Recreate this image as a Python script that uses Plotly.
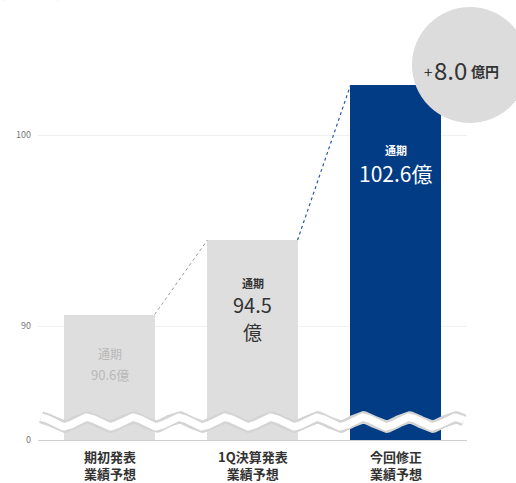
import numpy as np
import plotly.graph_objects as go

# ---- data ----
cat_line1 = ["期初発表", "1Q決算発表", "今回修正"]
cat_line2 = ["業績予想", "業績予想", "業績予想"]
values = [90.6, 94.5, 102.6]
value_labels = ["90.6億", "94.5", "102.6億"]
diff_label = "8.0"
tick_vals_real = [90, 100]
title_text = "売上高見通し（単位：億円）"

# ---- scale (broken axis: bottom of plot represents "0") ----
PX_PER_UNIT = 19.1
PLOT_H = 440
Y0 = 90 - 114 / PX_PER_UNIT           # value shown at the axis line ("0")
Y1 = Y0 + PLOT_H / PX_PER_UNIT

def ypx(py):
    return Y0 + (PLOT_H - py) / PX_PER_UNIT

def xpx(px):
    return (px - 38) / 143 - 0.5

def px_paper(px):
    return (px - 38) / 429

def py_paper(py):
    return (440 - py) / 440

GRAY = "#dedede"
BLUE = "#013c84"
BW = 0.63
xs = list(range(len(values)))

fig = go.Figure()
fig.add_trace(go.Bar(x=xs, y=values, width=BW, marker=dict(color=[GRAY, GRAY, BLUE], line=dict(width=0)),
                     hoverinfo="skip"))

# connectors
fig.add_trace(go.Scatter(x=[xs[0] + BW / 2, xs[1] - BW / 2], y=[values[0], values[1]], mode="lines",
                         line=dict(color="#9a9a9a", width=1, dash="dot"), hoverinfo="skip"))
fig.add_trace(go.Scatter(x=[xs[1] + BW / 2, xs[2] - BW / 2], y=[values[1], values[2]], mode="lines",
                         line=dict(color="#2a5aa8", width=1.2, dash="dot"), hoverinfo="skip"))

# wavy break decoration
wx = np.linspace(xpx(41), xpx(464), 600)
wave_len = 46 / 143
wy = ypx(422) + (4.8 / PX_PER_UNIT) * np.cos(2 * np.pi * (wx - xpx(87)) / wave_len)
fig.add_trace(go.Scatter(x=wx, y=wy, mode="lines", line=dict(color="#d4d4d4", width=12), hoverinfo="skip"))
fig.add_trace(go.Scatter(x=wx, y=wy, mode="lines", line=dict(color="white", width=7.5), hoverinfo="skip"))

FONT = "Noto Sans CJK JP"
ann = []
# bar 1
ann.append(dict(x=0, y=ypx(353), text="通期", font=dict(size=12, color="#b8b8b8")))
ann.append(dict(x=0, y=ypx(374), text=value_labels[0], font=dict(size=13, color="#b8b8b8")))
# bar 2
ann.append(dict(x=1, y=ypx(283), text="<b>通期</b>", font=dict(size=11, color="#333333")))
ann.append(dict(x=1, y=ypx(304), text=value_labels[1], font=dict(size=20, color="#333333")))
ann.append(dict(x=1, y=ypx(331), text="億", font=dict(size=19, color="#333333")))
# bar 3
ann.append(dict(x=2, y=ypx(150), text="<b>通期</b>", font=dict(size=11, color="white")))
ann.append(dict(x=2, y=ypx(173), text=value_labels[2], font=dict(size=21, color="white")))
for a in ann:
    a.update(xref="x", yref="y", showarrow=False, xanchor="center", yanchor="middle",
             font=dict(family=FONT, **a["font"]))

# bubble text
for px, py, txt, size in [(428, 71, "+", 15), (450, 69, diff_label, 24), (485, 71, "<b>億円</b>", 14)]:
    ann.append(dict(xref="paper", yref="paper", x=px_paper(px), y=py_paper(py), text=txt, showarrow=False,
                    xanchor="center", yanchor="middle", font=dict(family=FONT, size=size, color="#333333")))

# category labels (two lines)
for i in xs:
    ann.append(dict(xref="x", yref="paper", x=i, y=py_paper(465),
                    text="<b>" + cat_line1[i] + "</b><br><b>" + cat_line2[i] + "</b>",
                    showarrow=False, xanchor="center", yanchor="middle",
                    font=dict(family=FONT, size=13, color="#333333")))

# cropped title
ann.append(dict(xref="paper", yref="paper", x=px_paper(0), xanchor="left", y=py_paper(-10), yanchor="middle",
                showarrow=False, text="<b>" + title_text + "</b>", font=dict(family=FONT, size=18, color="#444444")))

fig.update_layout(
    width=516, height=483,
    margin=dict(l=38, r=49, t=0, b=43),
    paper_bgcolor="white", plot_bgcolor="white",
    showlegend=False,
    annotations=ann,
    shapes=[dict(type="circle", xref="paper", yref="paper", layer="above",
                 x0=px_paper(412), x1=px_paper(528), y0=py_paper(123), y1=py_paper(7),
                 fillcolor="#dcdcdc", line=dict(width=0))],
    bargap=0,
)
fig.update_xaxes(range=[-0.5, 2.5], showticklabels=False, showgrid=False, zeroline=False,
                 showline=True, linecolor="#cfcfcf", linewidth=1, ticks="", fixedrange=True)
fig.update_yaxes(range=[Y0, Y1], tickvals=[Y0] + tick_vals_real, ticktext=["0"] + [str(v) for v in tick_vals_real],
                 tickfont=dict(family=FONT, size=9, color="#777777"), showgrid=True, gridcolor="#f0f0f0",
                 gridwidth=1, zeroline=False, showline=False, ticks="", ticklabelstandoff=6)

fig.write_html("out.html")
